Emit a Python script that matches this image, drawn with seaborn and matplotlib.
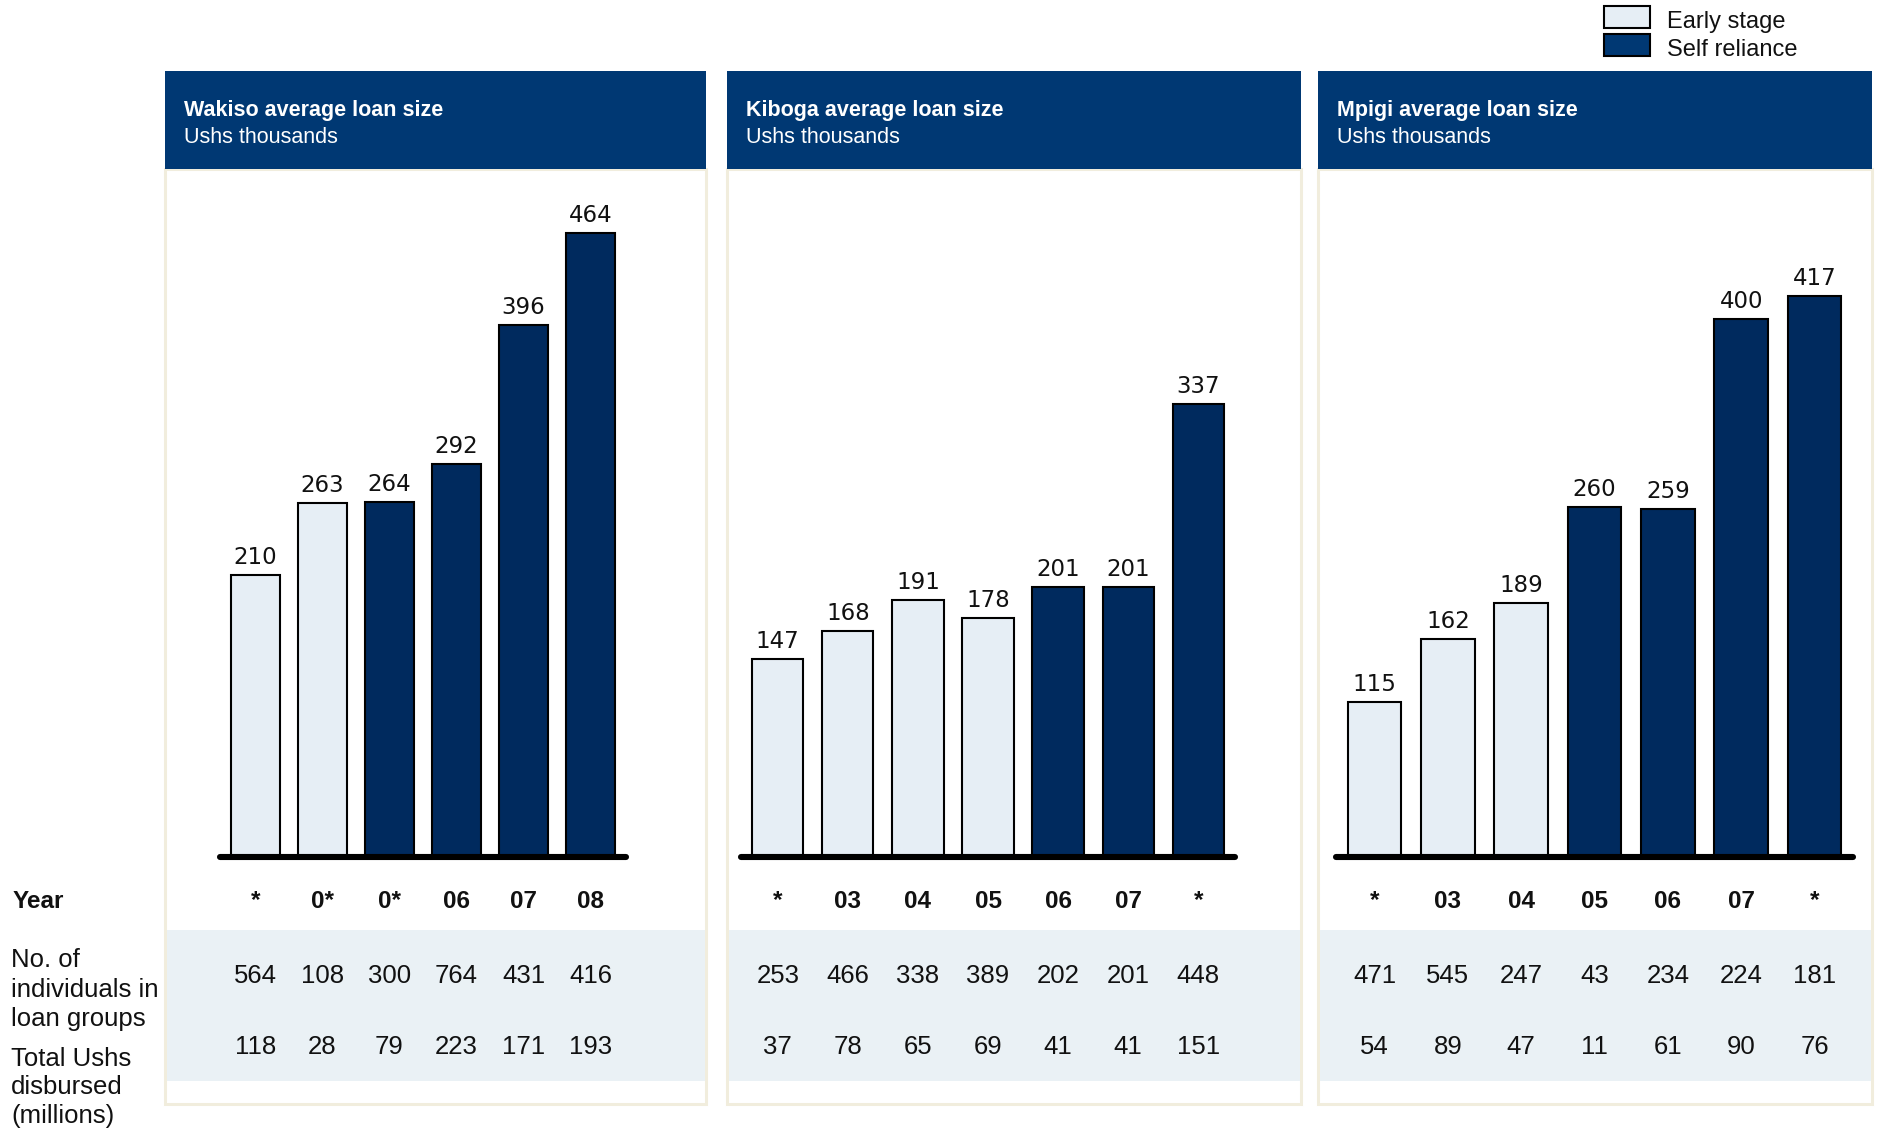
import matplotlib
matplotlib.use("Agg")
import matplotlib.pyplot as plt
import matplotlib.transforms as mtrans
from matplotlib.patches import Rectangle
import seaborn as sns
import pandas as pd

# ---------------- data ----------------
wakiso_years = ["*", "0*", "0*", "06", "07", "08"]
wakiso_loan = [210, 263, 264, 292, 396, 464]
wakiso_stage = ["Early stage", "Early stage", "Self reliance", "Self reliance", "Self reliance", "Self reliance"]
wakiso_individuals = [564, 108, 300, 764, 431, 416]
wakiso_disbursed = [118, 28, 79, 223, 171, 193]

kiboga_years = ["*", "03", "04", "05", "06", "07", "*"]
kiboga_loan = [147, 168, 191, 178, 201, 201, 337]
kiboga_stage = ["Early stage", "Early stage", "Early stage", "Early stage", "Self reliance", "Self reliance", "Self reliance"]
kiboga_individuals = [253, 466, 338, 389, 202, 201, 448]
kiboga_disbursed = [37, 78, 65, 69, 41, 41, 151]

mpigi_years = ["*", "03", "04", "05", "06", "07", "*"]
mpigi_loan = [115, 162, 189, 260, 259, 400, 417]
mpigi_stage = ["Early stage", "Early stage", "Early stage", "Self reliance", "Self reliance", "Self reliance", "Self reliance"]
mpigi_individuals = [471, 545, 247, 43, 234, 224, 181]
mpigi_disbursed = [54, 89, 47, 11, 61, 90, 76]

panel_titles = ["Wakiso average loan size", "Kiboga average loan size", "Mpigi average loan size"]
panel_subtitle = "Ushs thousands"
stages = ["Early stage", "Self reliance"]

# ---------------- style ----------------
HEADER = "#003873"
DARK = "#002A5E"
LIGHT = "#E6EEF5"
BAND = "#EAF1F5"
BORDER = "#F1EDDD"
palette = {"Early stage": LIGHT, "Self reliance": DARK}

sns.set_theme(style="white")
plt.rcParams["font.family"] = ["Liberation Sans", "DejaVu Sans"]

W, H = 1877, 1129
fig = plt.figure(figsize=(W / 100, H / 100), dpi=100)
fig.patch.set_facecolor("white")


def fx(x):
    return x / W


def fy(y):
    return 1 - y / H


def prect(x0, y0, x1, y1, **kw):
    r = Rectangle((fx(x0), fy(y1)), fx(x1) - fx(x0), fy(y0) - fy(y1),
                  transform=fig.transFigure, **kw)
    fig.add_artist(r)
    return r


panels = [
    dict(box=(165, 706), ax=(220, 626), years=wakiso_years, loan=wakiso_loan, stage=wakiso_stage,
         ind=wakiso_individuals, dis=wakiso_disbursed),
    dict(box=(727, 1301), ax=(741, 1235), years=kiboga_years, loan=kiboga_loan, stage=kiboga_stage,
         ind=kiboga_individuals, dis=kiboga_disbursed),
    dict(box=(1318, 1872), ax=(1336, 1853), years=mpigi_years, loan=mpigi_loan, stage=mpigi_stage,
         ind=mpigi_individuals, dis=mpigi_disbursed),
]

HEAD_TOP, HEAD_BOT = 71, 169
BOX_BOT = 1104
AX_TOP, BASE = 170, 857
BAND_TOP, BAND_BOT = 930, 1081
Y_YEAR, Y_ROW1, Y_ROW2 = 901, 976, 1047

for i, p in enumerate(panels):
    x0, x1 = p["box"]
    prect(x0, HEAD_BOT, x1, BOX_BOT, facecolor="white", edgecolor=BORDER, linewidth=2.2, zorder=0)
    prect(x0 + 1.5, BAND_TOP, x1 - 1.5, BAND_BOT, facecolor=BAND, edgecolor="none", zorder=0.5)
    prect(x0, HEAD_TOP, x1, HEAD_BOT, facecolor=HEADER, edgecolor="none", zorder=1)
    fig.text(fx(x0 + 19), fy(116), panel_titles[i], color="white", fontsize=15.5,
             fontweight="bold", va="baseline", ha="left")
    fig.text(fx(x0 + 19), fy(143), panel_subtitle, color="white", fontsize=15.5,
             va="baseline", ha="left")

    ax0, ax1 = p["ax"]
    ax = fig.add_axes([fx(ax0), fy(BASE), fx(ax1) - fx(ax0), fy(AX_TOP) - fy(BASE)])
    ax.patch.set_alpha(0)
    n = len(p["loan"])
    df = pd.DataFrame({"idx": list(range(n)), "loan": p["loan"], "stage": p["stage"]})
    sns.barplot(data=df, x="idx", y="loan", hue="stage", hue_order=stages, palette=palette,
                dodge=False, width=0.73, edgecolor="black", linewidth=1.5, saturation=1,
                ax=ax, legend=False, zorder=2)
    ax.set_xlim(-0.525, n - 0.475)
    ax.set_ylim(0, 511)
    ax.axis("off")
    ax.axhline(0, color="black", lw=4.4, solid_capstyle="round", clip_on=False, zorder=3)
    for j, v in enumerate(p["loan"]):
        ax.text(j, v + 4.5, f"{v}", ha="center", va="bottom", fontsize=16.5,
                family="DejaVu Sans", color="#111111")

    btr = mtrans.blended_transform_factory(ax.transData, fig.transFigure)
    for j in range(n):
        fig.text(j, fy(Y_YEAR), p["years"][j], transform=btr, ha="center", va="center",
                 fontsize=17.5, fontweight="bold", color="#111111")
        fig.text(j, fy(Y_ROW1), f"{p['ind'][j]}", transform=btr, ha="center",
                 va="center", fontsize=18.5, color="#111111")
        fig.text(j, fy(Y_ROW2), f"{p['dis'][j]}", transform=btr, ha="center",
                 va="center", fontsize=18.5, color="#111111")

# left row labels
fig.text(fx(13), fy(901), "Year", fontsize=17.5, fontweight="bold", va="center", ha="left",
         color="#111111")
for txt, y in [("No. of", 960), ("individuals in", 990), ("loan groups", 1019),
               ("Total Ushs", 1059), ("disbursed", 1087), ("(millions)", 1116)]:
    fig.text(fx(11), fy(y), txt, fontsize=18.5, va="center", ha="left", color="#111111")

# legend
for k, (lab, col) in enumerate(zip(stages, [LIGHT, HEADER])):
    y0 = 6 + k * 28
    prect(1604, y0, 1650, y0 + 22, facecolor=col, edgecolor="black", linewidth=1.5, zorder=2)
    fig.text(fx(1667), fy(y0 + 16), lab, fontsize=17, va="center", ha="left", color="#111111")

fig.savefig("out.png", dpi=100, facecolor="white")
